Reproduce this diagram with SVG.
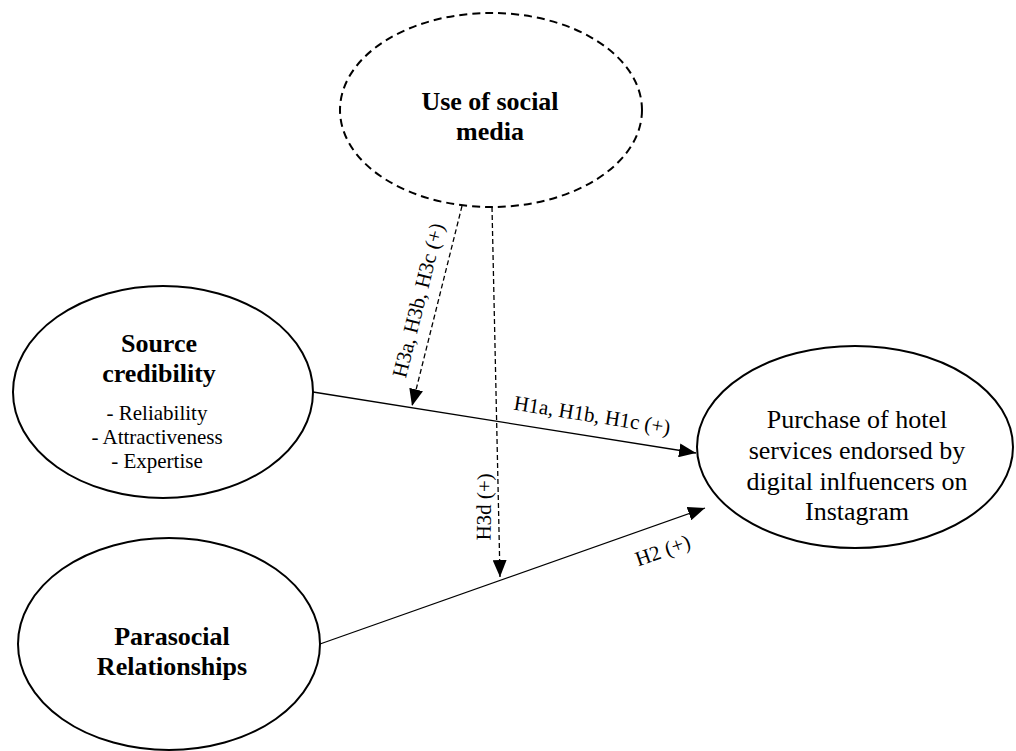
<svg xmlns="http://www.w3.org/2000/svg" width="1016" height="751" viewBox="0 0 1016 751">
<style>
.node{fill:#fff;stroke:#000;stroke-width:2}
.dash{stroke-dasharray:8 5}
.t{font-family:"Liberation Serif","Times New Roman",serif;fill:#000;text-anchor:middle}
.b{font-weight:bold;font-size:26px}
.r{font-size:26px}
.s{font-size:21px}
.lab{font-size:21px}
.c{fill:none;stroke:#000;stroke-width:1.3}
.cd{stroke-dasharray:5 3}
</style>
<defs>
<marker id="arr" markerUnits="userSpaceOnUse" markerWidth="18" markerHeight="14" refX="17" refY="7" orient="auto">
<path d="M0,0 L17,7 L0,14 Z" fill="#000"/>
</marker>
</defs>
<rect width="1016" height="751" fill="#fff"/>
<g id="connectors">
<line class="c" x1="313" y1="392" x2="696" y2="453" marker-end="url(#arr)"/>
<line class="c" x1="320" y1="644" x2="705" y2="508" marker-end="url(#arr)"/>
<line class="c cd" x1="462" y1="206" x2="412" y2="406" marker-end="url(#arr)"/>
<line class="c cd" x1="492" y1="207" x2="500" y2="577" marker-end="url(#arr)"/>
<text class="t lab" transform="translate(425,302) rotate(-76)">H3a, H3b, H3c (+)</text>
<text class="t lab" transform="translate(591,422) rotate(9.1)">H1a, H1b, H1c (+)</text>
<text class="t lab" transform="translate(491,507) rotate(-89)">H3d (+)</text>
<text class="t lab" transform="translate(665,557) rotate(-19.5)">H2 (+)</text>
</g>
<g id="use-social-media">
<ellipse class="node dash" cx="491" cy="110" rx="151" ry="97"/>
<text class="t b" x="490" y="110">Use of social</text>
<text class="t b" x="490" y="140">media</text>
</g>
<g id="source-credibility">
<ellipse class="node" cx="163" cy="392" rx="150" ry="106"/>
<text class="t b" x="159" y="352">Source</text>
<text class="t b" x="159" y="382">credibility</text>
<text class="t s" x="157" y="420">- Reliability</text>
<text class="t s" x="157" y="444">- Attractiveness</text>
<text class="t s" x="157" y="468">- Expertise</text>
</g>
<g id="parasocial">
<ellipse class="node" cx="169" cy="644" rx="151" ry="106"/>
<text class="t b" x="172" y="645">Parasocial</text>
<text class="t b" x="172" y="675">Relationships</text>
</g>
<g id="purchase">
<ellipse class="node" cx="855" cy="447" rx="158" ry="101"/>
<text class="t r" x="857" y="428">Purchase of hotel</text>
<text class="t r" x="857" y="459">services endorsed by</text>
<text class="t r" x="857" y="490">digital inlfuencers on</text>
<text class="t r" x="857" y="520">Instagram</text>
</g>
</svg>
